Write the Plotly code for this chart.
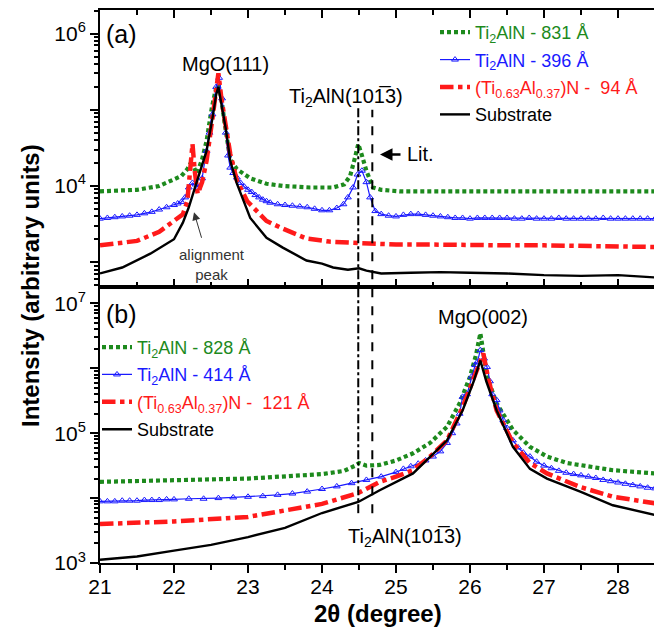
import plotly.graph_objects as go

# ---------------- data ----------------
# Panel (a): MgO(111) region
a_green_x = [21.0, 21.5, 21.8, 22.0, 22.1, 22.18, 22.22, 22.26, 22.31, 22.38, 22.44, 22.51, 22.56, 22.60,
             22.64, 22.68, 22.72, 22.76, 22.85, 23.03, 23.25, 23.47, 23.84, 24.15, 24.30, 24.38, 24.44,
             24.49, 24.54, 24.60, 24.69, 24.80, 25.05, 25.5, 26.0, 26.5, 27.0, 27.5, 28.0, 28.5]
a_green_y = [8500, 8900, 10000, 12000, 13500, 16600, 19500, 18200, 14500, 22400, 38900, 104700, 177800, 213800,
             141300, 70800, 35500, 22400, 16600, 12600, 10700, 10000, 9550, 9550, 10500, 13500, 22400,
             35500, 25100, 15800, 9550, 8900, 8500, 8500, 8500, 8500, 8500, 8500, 8500, 8500]

a_blue_x = [21.0, 21.1, 21.2, 21.3, 21.4, 21.5, 21.6, 21.7, 21.8, 21.9, 22.0, 22.05, 22.1, 22.15, 22.2, 22.25,
            22.29, 22.33, 22.38, 22.44, 22.48, 22.52, 22.57, 22.61, 22.65, 22.7, 22.73, 22.76, 22.8, 22.85,
            22.9, 22.95, 23.0, 23.05, 23.1, 23.15, 23.2, 23.25, 23.3, 23.4, 23.5, 23.6, 23.7, 23.8, 23.9,
            24.0, 24.1, 24.2, 24.29, 24.35, 24.42, 24.48, 24.54, 24.6, 24.65, 24.72, 24.8, 24.9, 25.0, 25.1,
            25.2, 25.3, 25.4, 25.5, 25.6, 25.7, 25.8, 25.9, 26.0, 26.1, 26.2, 26.3, 26.4, 26.5, 26.6, 26.7,
            26.8, 26.9, 27.0, 27.1, 27.2, 27.3, 27.4, 27.5, 27.6, 27.7, 27.8, 27.9, 28.0, 28.1, 28.2, 28.3,
            28.4, 28.5]
a_blue_y = [3720, 3800, 3890, 3980, 4070, 4170, 4370, 4570, 4900, 5250, 5620, 5890, 6170, 7080, 9550, 10960,
            10470, 9550, 12590, 28840, 50100, 87100, 199500, 263000, 141300, 50100, 25100, 17400, 14800, 12900,
            10960, 9770, 8910, 8320, 7590, 7080, 6610, 6310, 6030, 5750, 5620, 5500, 5370, 5250, 5010,
            4790, 4790, 5130, 5750, 7080, 9550, 14130, 15850, 11220, 7080, 4680, 4270, 4070, 3980, 4170,
            4270, 4270, 4170, 4070, 3980, 3890, 3800, 3800, 3720, 3800, 3800, 3800, 3800, 3800, 3720, 3720,
            3800, 3720, 3720, 3720, 3800, 3720, 3720, 3720, 3720, 3720, 3800, 3720, 3720, 3720, 3720, 3720,
            3720, 3720]

a_red_x = [21.0, 21.5, 21.8, 22.0, 22.12, 22.18, 22.22, 22.25, 22.28, 22.32, 22.38, 22.44, 22.52, 22.57, 22.60,
           22.64, 22.70, 22.76, 22.85, 22.99, 23.25, 23.47, 23.79, 24.1, 24.5, 25.0, 25.5, 26.0, 26.5,
           27.0, 27.5, 28.0, 28.5]
a_red_y = [1660, 1900, 2500, 3400, 4250, 6300, 15800, 35500, 15800, 7900, 11200, 21400, 77600, 199500, 302000,
           141300, 63100, 26300, 11700, 6300, 3470, 2750, 2040, 1860, 1780, 1700, 1700, 1660, 1660,
           1660, 1620, 1620, 1580]

a_black_x = [21.0, 21.3, 21.68, 22.0, 22.12, 22.2, 22.3, 22.44, 22.52, 22.57, 22.60, 22.64, 22.70, 22.76, 22.85,
             23.03, 23.25, 23.47, 23.79, 24.0, 24.15, 24.35, 24.5, 24.6, 24.8, 25.2, 25.6, 26.0, 26.5, 27.0,
             27.5, 28.0, 28.5]
a_black_y = [710, 850, 1290, 2000, 3300, 5250, 10700, 28800, 77600, 158500, 199500, 125900, 56200, 21400, 10700,
             3800, 2090, 1550, 1050, 955, 850, 795, 830, 775, 710, 725, 740, 725, 710, 675,
             660, 675, 630]

# Panel (b): MgO(002) region
b_green_x = [21.0, 22.0, 23.0, 24.0, 24.3, 24.45, 24.5, 24.6, 24.78, 25.0, 25.23, 25.46, 25.69, 25.86, 26.0,
             26.08, 26.14, 26.2, 26.23, 26.36, 26.58, 26.81, 27.04, 27.31, 27.49, 27.93, 28.5]
b_green_y = [17800, 19100, 20000, 23400, 26300, 31600, 34700, 31600, 32400, 38000, 49000, 70800, 125900, 288400,
             741300, 1584900, 3467000, 1258900, 741300, 288400, 112200, 61700, 43700, 34700, 32400, 26900, 24000]

b_blue_x = [21.0, 21.1, 21.2, 21.3, 21.4, 21.5, 21.6, 21.7, 21.8, 21.9, 22.0, 22.2, 22.4, 22.6, 22.8, 23.0,
            23.2, 23.4, 23.6, 23.8, 24.0, 24.2, 24.4, 24.6, 24.8, 25.0, 25.1, 25.2, 25.3, 25.4, 25.5, 25.6,
            25.69, 25.76, 25.82, 25.86, 25.9, 25.96, 26.02, 26.07, 26.1, 26.14, 26.19, 26.23, 26.27, 26.3,
            26.36, 26.4, 26.45, 26.5, 26.58, 26.65, 26.72, 26.81, 26.9, 27.0, 27.1, 27.2, 27.3, 27.4, 27.5,
            27.6, 27.7, 27.8, 27.9, 28.0, 28.1, 28.2, 28.3, 28.4, 28.5]
b_blue_y = [8910, 8910, 8910, 9120, 9120, 9120, 9330, 9330, 9330, 9550, 9550, 9770, 9770, 10000, 10230, 10470,
            10720, 11220, 11750, 12590, 13800, 15140, 16980, 19050, 21380, 25120, 28180, 30900, 33880, 38020,
            43650, 52480, 70800, 100000, 141300, 199500, 363100, 398100, 741300, 1122000, 1258900, 1905500,
            1412500, 1047100, 631000, 398100, 323600, 223900, 158500, 120200, 77600, 60260, 50120, 43650,
            36310, 31620, 28840, 26300, 24550, 23440, 22390, 21380, 20420, 19050, 18200, 17380, 16600, 15850,
            15140, 14450, 14130]

b_red_x = [21.0, 22.0, 23.0, 24.0, 24.49, 24.78, 25.0, 25.23, 25.46, 25.69, 25.9, 26.04, 26.12, 26.18, 26.25,
           26.36, 26.58, 26.81, 27.04, 27.49, 27.93, 28.5]
b_red_y = [3980, 4370, 5130, 8130, 12000, 17800, 21400, 26900, 43700, 77600, 251200, 660700, 1122000, 1698200,
           660700, 223900, 70800, 34700, 24000, 14800, 10500, 8320]

b_black_x = [21.0, 21.5, 22.0, 22.5, 23.0, 23.5, 24.0, 24.49, 24.78, 25.23, 25.69, 25.9, 26.05, 26.14, 26.22,
             26.36, 26.58, 26.81, 27.04, 27.49, 27.93, 28.5]
b_black_y = [1120, 1260, 1550, 1900, 2510, 3470, 5890, 8710, 13200, 24000, 77600, 223900, 631000, 1318300,
             631000, 223900, 61700, 28200, 19950, 12600, 7760, 5500]

# tick labels
x_ticks = [21, 22, 23, 24, 25, 26, 27, 28]
a_y_ticks = [1e3, 1e4, 1e5, 1e6]
a_y_text = ["", "10<sup>4</sup>", "", "10<sup>6</sup>"]
b_y_ticks = [1e3, 1e4, 1e5, 1e6, 1e7]
b_y_text = ["10<sup>3</sup>", "", "10<sup>5</sup>", "", "10<sup>7</sup>"]

# marker lines (2θ positions)
line_measured = 24.49
line_lit = 24.68

# ---------------- styles ----------------
GREEN = "#1d8a1d"
BLUE = "#1a1aff"
RED = "#ff1a1a"
BLACK = "#000000"
FONT = "Liberation Sans, Arial, Helvetica, sans-serif"

# the page body adds an 8px offset; the figure is sized so that it fits in the window
W, H = 654, 629
ML, MR, MT, MB = 92, 7, 0, 74
PW = W - ML - MR
PH = H - MT - MB


def px(xp):  # image pixel x -> paper
    return (xp - 8 - ML) / PW


def py(yp):  # image pixel y -> paper
    return (H - MB - (yp - 8)) / PH


def colored(text, color):
    return f'<span style="color:{color}">{text}</span>'


fig = go.Figure()

styles = {
    "green": dict(mode="lines", line=dict(color=GREEN, width=4.2, dash="4px,3px")),
    "blue": dict(mode="lines+markers", line=dict(color=BLUE, width=1.2),
                 marker=dict(symbol="triangle-up-open", size=6, color=BLUE, line=dict(width=1))),
    "red": dict(mode="lines", line=dict(color=RED, width=4.5, dash="dashdot")),
    "black": dict(mode="lines", line=dict(color=BLACK, width=2.4)),
}

a_series = [
    ("green", a_green_x, a_green_y, colored("Ti<sub>2</sub>AlN - 831 Å", GREEN)),
    ("blue", a_blue_x, a_blue_y, colored("Ti<sub>2</sub>AlN - 396 Å", BLUE)),
    ("red", a_red_x, a_red_y, colored("(Ti<sub>0.63</sub>Al<sub>0.37</sub>)N -  94 Å", RED)),
    ("black", a_black_x, a_black_y, colored("Substrate", BLACK)),
]
b_series = [
    ("green", b_green_x, b_green_y, colored("Ti<sub>2</sub>AlN - 828 Å", GREEN)),
    ("blue", b_blue_x, b_blue_y, colored("Ti<sub>2</sub>AlN - 414 Å", BLUE)),
    ("red", b_red_x, b_red_y, colored("(Ti<sub>0.63</sub>Al<sub>0.37</sub>)N -  121 Å", RED)),
    ("black", b_black_x, b_black_y, colored("Substrate", BLACK)),
]

for i, (k, xs, ys, name) in enumerate(a_series):
    fig.add_trace(go.Scatter(x=xs, y=ys, name=name, xaxis="x2", yaxis="y2",
                             legend="legend", legendgroup=f"a{i}", **styles[k]))
for i, (k, xs, ys, name) in enumerate(b_series):
    fig.add_trace(go.Scatter(x=xs, y=ys, name=name, xaxis="x", yaxis="y",
                             legend="legend2", legendgroup=f"b{i}", **styles[k]))

# vertical reference lines
fig.add_shape(type="line", xref="x", yref="paper", x0=line_measured, x1=line_measured,
              y0=py(513), y1=py(105), line=dict(color="black", width=2, dash="dashdot"))
fig.add_shape(type="line", xref="x", yref="paper", x0=line_lit, x1=line_lit,
              y0=py(513), y1=py(108), line=dict(color="black", width=2, dash="dash"))


def minor_log(lo, hi):
    vals = []
    for e in range(lo, hi):
        for m in range(2, 10):
            vals.append(m * 10 ** e)
    return vals


axis_common = dict(showline=True, linewidth=2, linecolor="black", showgrid=False, zeroline=False,
                   tickwidth=2, tickcolor="black", tickfont=dict(family=FONT, size=21, color="black"))

fig.update_layout(
    width=W, height=H,
    margin=dict(l=ML, r=MR, t=MT, b=MB),
    plot_bgcolor="white", paper_bgcolor="white",
    font=dict(family=FONT, color="black"),
    showlegend=True,
    xaxis=dict(domain=[0, 1], anchor="y", range=[21, 28.5], tickmode="array", tickvals=x_ticks,
               ticks="outside", ticklen=8, mirror=True, ticklabelstandoff=-4,
               minor=dict(dtick=0.5, tick0=21, ticks="outside", ticklen=5, tickwidth=2, tickcolor="black"),
               **axis_common),
    xaxis3=dict(overlaying="x", anchor="y", side="top", range=[21, 28.5], tickmode="array",
                tickvals=x_ticks, ticks="inside", ticklen=8, showticklabels=False,
                minor=dict(dtick=0.5, tick0=21, ticks="inside", ticklen=5, tickwidth=2, tickcolor="black"),
                showline=False, showgrid=False, zeroline=False, tickwidth=2, tickcolor="black"),
    xaxis2=dict(domain=[0, 1], anchor="y2", range=[21, 28.5], tickmode="array", tickvals=x_ticks,
                ticks="inside", ticklen=8, mirror="ticks", showticklabels=False,
                minor=dict(dtick=0.5, tick0=21, ticks="inside", ticklen=5, tickwidth=2, tickcolor="black"),
                **axis_common),
    yaxis=dict(domain=[0, 0.5], anchor="x", type="log", range=[3, 7.26],
               tickmode="array", tickvals=b_y_ticks, ticktext=b_y_text,
               ticks="outside", ticklen=8, mirror=True,
               minor=dict(tickmode="array", tickvals=minor_log(3, 7), ticks="outside", ticklen=4,
                          tickwidth=1.5, tickcolor="black"),
               **axis_common),
    yaxis2=dict(domain=[0.5, 1], anchor="x2", type="log", range=[2.68, 6.31],
                tickmode="array", tickvals=a_y_ticks, ticktext=a_y_text,
                ticks="outside", ticklen=8, mirror=True,
                minor=dict(tickmode="array", tickvals=minor_log(2, 7), ticks="outside", ticklen=4,
                           tickwidth=1.5, tickcolor="black"),
                **axis_common),
    legend=dict(x=px(435), y=py(12), xanchor="left", yanchor="top", bgcolor="rgba(0,0,0,0)",
                font=dict(family=FONT, size=18), itemwidth=30, tracegroupgap=1),
    legend2=dict(x=px(97), y=py(328), xanchor="left", yanchor="top", bgcolor="rgba(0,0,0,0)",
                 font=dict(family=FONT, size=18), itemwidth=30, tracegroupgap=1),
)

ann = []


def text_ann(text, xp, yp, size, xanchor="center", color="black"):
    ann.append(dict(text=text, x=px(xp), y=py(yp), xref="paper", yref="paper", xanchor=xanchor,
                    yanchor="middle", showarrow=False, font=dict(family=FONT, size=size, color=color)))


text_ann("(a)", 104, 32, 25, xanchor="left")
text_ann("MgO(111)", 225, 62, 20)
text_ann("Ti<sub>2</sub>AlN(101\u03053)", 346, 96, 20)
text_ann("Lit.", 405, 153, 20, xanchor="left")
text_ann("alignment<br>peak", 212, 263, 15, color="#333333")
text_ann("(b)", 104, 313, 25, xanchor="left")
text_ann("MgO(002)", 483, 316, 20)
text_ann("Ti<sub>2</sub>AlN(101\u03053)", 405, 537, 20)

# arrows
ann.append(dict(text="", x=px(380), y=py(153), xref="paper", yref="paper", ax=22, ay=0,
                showarrow=True, arrowhead=2, arrowsize=1, arrowwidth=2.5, arrowcolor="black"))
ann.append(dict(text="", x=px(194), y=py(211), xref="paper", yref="paper", ax=8, ay=27,
                showarrow=True, arrowhead=2, arrowsize=1.6, arrowwidth=1, arrowcolor="#333333"))

# axis titles
ann.append(dict(text="<b>Intensity (arbitrary units)</b>", x=px(30), y=py(285), xref="paper", yref="paper",
                textangle=-90, showarrow=False, xanchor="center", yanchor="middle",
                font=dict(family=FONT, size=24, color="black")))
ann.append(dict(text="<b>2θ (degree)</b>", x=px(378), y=py(614), xref="paper", yref="paper",
                showarrow=False, xanchor="center", yanchor="middle",
                font=dict(family=FONT, size=24, color="black")))

fig.update_layout(annotations=ann)

fig.write_html("out.html")
